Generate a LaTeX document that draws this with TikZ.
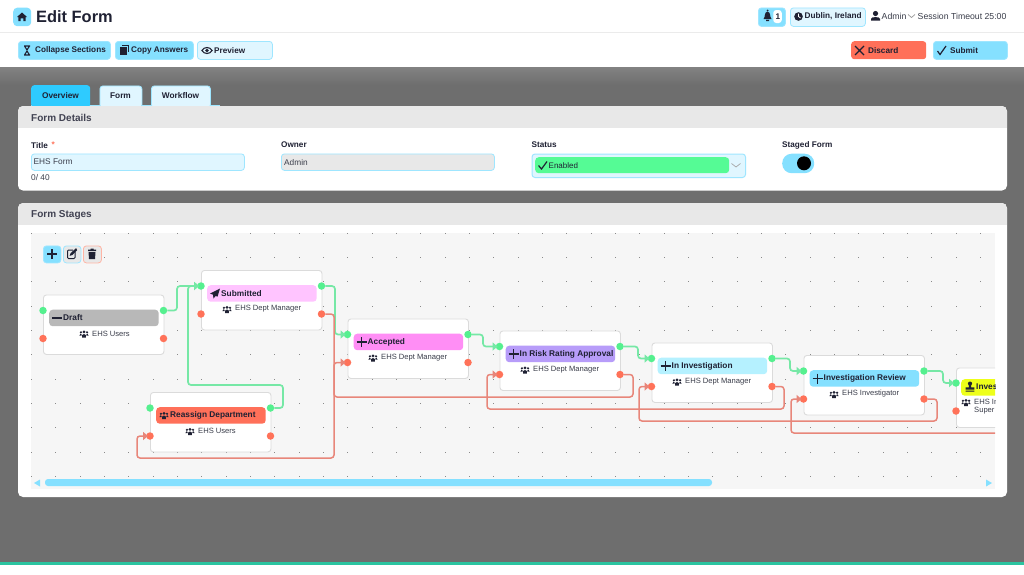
\documentclass[tikz,border=0pt]{standalone}
\usepackage{fontspec}
\setmainfont{Liberation Sans}
\usetikzlibrary{calc,arrows.meta}
\definecolor{ink}{HTML}{1F2133}
\definecolor{sub}{HTML}{3A3D4A}
\definecolor{sky}{HTML}{85E0FF}
\definecolor{skyl}{HTML}{E0F6FF}
\definecolor{skyb}{HTML}{9FE6FF}
\definecolor{tabon}{HTML}{2ECBFF}
\definecolor{hdr}{HTML}{E8E8E8}
\definecolor{page}{HTML}{6E6E6E}
\definecolor{pagetop}{HTML}{828282}
\definecolor{canvasc}{HTML}{F6F6F6}
\definecolor{portg}{HTML}{55F08F}
\definecolor{portr}{HTML}{FF7259}
\definecolor{lineg}{HTML}{76E8A6}
\definecolor{liner}{HTML}{E8867A}
\definecolor{coral}{HTML}{FF7059}
\definecolor{dotc}{HTML}{8A8A8A}
\definecolor{teal}{HTML}{2BC4A0}
\definecolor{salmon}{HTML}{FFB5A5}
\definecolor{okgreen}{HTML}{55FB95}
\definecolor{HLpink}{HTML}{FFC4FF}
\definecolor{HLmag}{HTML}{FF8EF5}
\definecolor{HLpur}{HTML}{B79CF9}
\definecolor{HLcy}{HTML}{B5F1FF}
\definecolor{HLyel}{HTML}{EEFF1A}
\tikzset{
  x=1pt,y=-1pt,
  stagebox/.style={draw=black!14,line width=.9pt,fill=white,rounded corners=3pt,minimum width=120.5pt,minimum height=59.5pt,inner sep=0pt,anchor=north west},
  pillbox/.style={rounded corners=3.5pt,minimum width=109.5pt,minimum height=16.5pt,inner sep=0pt,anchor=north west},
  ptitle/.style={font=\fontsize{8.3}{10}\selectfont\bfseries,text=ink,anchor=west,inner sep=0pt},
  psub/.style={font=\fontsize{7.6}{9}\selectfont,text=sub,anchor=west,inner sep=0pt},
  gport/.style={circle,fill=portg,minimum size=7.5pt,inner sep=0pt},
  rport/.style={circle,fill=portr,minimum size=7.5pt,inner sep=0pt},
  glink/.style={draw=lineg,line width=1.7pt,rounded corners=3pt,shorten >=-2pt,-{Triangle[length=5pt,width=8pt]}},
  rlink/.style={draw=liner,line width=1.5pt,rounded corners=3pt,shorten >=-2pt,-{Triangle[length=5pt,width=8pt]}},
  btnbox/.style={rounded corners=3pt,draw=skyb,line width=.8pt,fill=#1,inner sep=0pt,anchor=north west},
  btxt/.style={font=\fontsize{8.2}{10}\selectfont\bfseries,text=ink,anchor=west,inner sep=0pt,yshift=-.6pt},
  inp/.style={font=\fontsize{8.3}{10}\selectfont,text=sub,anchor=west,inner sep=0pt,yshift=-.6pt},
  headt/.style={font=\fontsize{10}{12}\selectfont\bfseries,text=ink!85,anchor=west,inner sep=0pt,yshift=-.6pt},
  tabt/.style={font=\fontsize{8.3}{10}\selectfont\bfseries,text=ink,anchor=center,inner sep=0pt,yshift=-.4pt},
}
\newcommand{\icoPlus}[2]{\draw[ink,line width=1.3pt] (#1-5,#2)--(#1+5,#2) (#1,#2-5)--(#1,#2+5);}
\newcommand{\icoMinus}[2]{\draw[ink,line width=1.3pt] (#1-5,#2)--(#1+5,#2);}
\newcommand{\icoPlane}[2]{\fill[ink] (#1+5,#2-5) -- (#1-5,#2) -- (#1-2,#2+1.2) -- (#1-1.5,#2+5) -- (#1+.6,#2+2.4) -- (#1+2.5,#2+3.2) -- cycle;}
\newcommand{\icoStamp}[2]{\fill[ink] (#1,#2-3.4) circle (2.1pt) (#1-1.2,#2-3) rectangle (#1+1.2,#2+.5) (#1-4.4,#2+.3) rectangle (#1+4.4,#2+2.6) (#1-4.4,#2+3.6) rectangle (#1+4.4,#2+4.6);}
\newcommand{\icoUsers}[2]{\begin{scope}[shift={(#1,#2)}]\fill[ink] (0,-2.2) circle (1.5pt) (-3.1,-1.7) circle (1.2pt) (3.1,-1.7) circle (1.2pt);
 \fill[ink] (-1.9,3.6) -- (-1.9,1.1) .. controls (-1.9,-.4) and (1.9,-.4) .. (1.9,1.1) -- (1.9,3.6) -- cycle;
 \fill[ink] (-4.6,1.6) .. controls (-4.6,-.6) and (-2.4,-.6) .. (-2.4,.4) -- (-2.4,1.6) -- cycle;
 \fill[ink] (4.6,1.6) .. controls (4.6,-.6) and (2.4,-.6) .. (2.4,.4) -- (2.4,1.6) -- cycle;\end{scope}}
% id, x, y, fill, icon macro, title, users-icon x, sub text
\newcommand{\stagenode}[8]{%
  \node[stagebox] (#1) at (#2,#3) {};
  \node[pillbox,fill=#4] (#1pill) at (#2+6,#3+15) {};
  #5{#2+14}{#3+23.5}
  \node[ptitle] (#1title) at (#2+20,#3+23.5) {#6};
  \icoUsers{#7}{#3+39.5}
  \node[psub] (#1sub) at (#7+8,#3+39) {#8};
  \node[gport] (#1gi) at (#2,#3+16) {};
  \node[rport] (#1ri) at (#2,#3+44) {};
  \node[gport] (#1go) at (#2+120.5,#3+16) {};
  \node[rport] (#1ro) at (#2+120.5,#3+44) {};
}
\begin{document}
\begin{tikzpicture}
\useasboundingbox (0,0) rectangle (1024,574);
\fill[white] (0,0) rectangle (1024,574);
% page background
\fill[page] (0,67) rectangle (1024,563);
\shade[top color=pagetop,bottom color=page] (0,67) rectangle (1024,85);
\fill[black!8] (0,32) rectangle (1024,33);
\fill[teal] (0,562) rectangle (1024,564.5);
% top bar
\node[rounded corners=4pt,fill=sky,minimum width=18pt,minimum height=18.5pt,inner sep=0pt,anchor=north west] (home) at (13,7.5) {};
\fill[ink] (22,12.5) -- (27,17) -- (25.6,17) -- (25.6,21) -- (23.3,21) -- (23.3,18.3) -- (20.7,18.3) -- (20.7,21) -- (18.4,21) -- (18.4,17) -- (17,17) -- cycle;
\node[font=\fontsize{16.4}{20}\selectfont\bfseries,text=ink,anchor=west,inner sep=0pt] (pagetitle) at (36,16.8) {Edit Form};
\node[btnbox=sky,minimum width=27pt,minimum height=18.5pt] (bell) at (758,7.5) {};
\fill[ink] (767.5,10.5) circle (1pt);
\fill[ink] (763.5,19) .. controls (765.5,17) and (764,12) .. (767.5,11.5) .. controls (771,12) and (769.5,17) .. (771.5,19) -- cycle (766,19.8) rectangle (769,21);
\node[rounded corners=3pt,fill=white,minimum width=8.5pt,minimum height=13pt,inner sep=0pt] (bellbg) at (777.5,16.5) {};
\node[btxt] (bellnum) at (775.5,16) {1};
\node[btnbox=skyl,minimum width=75pt,minimum height=18.5pt] (loc) at (790,7.5) {};
\fill[ink] (798.5,16.5) circle (4.3pt);
\draw[white,line width=.8pt] (798.5,13.5) -- (798.5,16.5) -- (800.5,18);
\node[btxt] (loctxt) at (804.5,16) {Dublin, Ireland};
\fill[ink] (875.5,13.5) circle (2.6pt);
\fill[ink] (871,20.5) -- (871,18.8) .. controls (871,16.5) and (880,16.5) .. (880,18.8) -- (880,20.5) -- cycle;
\node[psub,font=\fontsize{8.7}{10}\selectfont] (admin) at (881.5,16) {Admin};
\draw[black!40,line width=.7pt] (908,14.5) -- (911.5,17.5) -- (915,14.5);
\node[psub,font=\fontsize{8.7}{10}\selectfont] (sess) at (917.5,16) {Session Timeout 25:00};
% action bar
\node[btnbox=sky,minimum width=92pt,minimum height=18pt] (b1) at (18,41) {};
\draw[ink,line width=1.1pt] (24,46)--(30,46) (24,55)--(30,55) (24.5,46)--(27,50) --(29.5,46) (24.5,55)--(27,51)--(29.5,55);
\node[btxt] (b1t) at (35,50) {Collapse Sections};
\node[btnbox=sky,minimum width=78pt,minimum height=18pt] (b2) at (115,41) {};
\fill[ink] (120,47) rectangle (127,55);
\draw[ink,line width=1pt] (122,45.5) -- (128.5,45.5) -- (128.5,52);
\node[btxt] (b2t) at (131,50) {Copy Answers};
\node[btnbox=skyl,minimum width=75pt,minimum height=18pt] (b3) at (197,41) {};
\draw[ink,line width=1.1pt] (202,50.5) .. controls (204,46.5) and (210,46.5) .. (212,50.5) .. controls (210,54.5) and (204,54.5) .. (202,50.5) -- cycle;
\fill[ink] (207,50.5) circle (1.8pt);
\node[btxt] (b3t) at (214,50) {Preview};
\node[rounded corners=3pt,fill=coral,minimum width=75pt,minimum height=18pt,inner sep=0pt,anchor=north west] (b4) at (851,41) {};
\draw[ink,line width=1.1pt] (855,46)--(864,55) (864,46)--(855,55);
\node[btxt] (b4t) at (868,50) {Discard};
\node[btnbox=sky,minimum width=74pt,minimum height=18pt] (b5) at (933,41) {};
\draw[ink,line width=1.2pt] (937.5,51) -- (940,54.5) -- (946,46);
\node[btxt] (b5t) at (950,50) {Submit};
% tabs
\draw[skyb,line width=.7pt] (31,105.5) -- (220,105.5);
\node[rounded corners=3pt,fill=tabon,minimum width=59pt,minimum height=22pt,inner sep=0pt,anchor=north west] (tab1) at (31,85) {};
\node[btnbox=skyl,minimum width=42pt,minimum height=22pt] (tab2) at (99.5,85.5) {};
\node[btnbox=skyl,minimum width=59pt,minimum height=22pt] (tab3) at (151,85.5) {};
% form details card
\begin{scope}
\fill[white,rounded corners=5pt] (18,106) rectangle (1007,190.5);
\clip[rounded corners=5pt] (18,106) rectangle (1007,190.5);
\fill[hdr] (18,106) rectangle (1007,128);
\end{scope}
\node[tabt] (tab1t) at (60.5,95.5) {Overview};
\node[tabt] (tab2t) at (120.5,95.5) {Form};
\node[tabt] (tab3t) at (180.5,95.5) {Workflow};
\node[headt] (h1) at (31,117) {Form Details};
\node[btxt] (l1) at (31,144.5) {Title};
\node[btxt,text=portr] (l1s) at (51.5,144.5) {*};
\node[btnbox=skyl,minimum width=213pt,minimum height=16.5pt] (f1) at (31,153.5) {};
\node[inp] (f1t) at (33.5,161.5) {EHS Form};
\node[inp] (f1c) at (31,177) {0/ 40};
\node[btxt] (l2) at (281,144.5) {Owner};
\node[btnbox=hdr,minimum width=213pt,minimum height=16.5pt] (f2) at (281,153.5) {};
\node[inp] (f2t) at (284,161.5) {Admin};
\node[btxt] (l3) at (531.5,144.5) {Status};
\node[btnbox=skyl,line width=1pt,minimum width=213.5pt,minimum height=23.5pt] (f3) at (531.5,153.5) {};
\node[rounded corners=3.5pt,fill=okgreen,minimum width=194pt,minimum height=16pt,inner sep=0pt,anchor=north west] (f3p) at (535,157) {};
\draw[ink,line width=1.2pt] (538.5,165.5) -- (541.5,169) -- (547,161.5);
\node[btxt,font=\fontsize{8}{10}\selectfont] (f3t) at (548.5,165) {Enabled};
\draw[black!35,line width=.7pt] (731.5,163.5) -- (736,167) -- (740.5,163.5);
\node[btxt] (l4) at (782,144.5) {Staged Form};
\node[rounded corners=9.5pt,fill=sky,minimum width=32pt,minimum height=19.5pt,inner sep=0pt,anchor=north west] (tog) at (782,153.5) {};
\node[circle,fill=black,minimum size=14pt,inner sep=0pt] (knob) at (804,163.3) {};
% form stages card
\begin{scope}
\fill[white,rounded corners=5pt] (18,203) rectangle (1007,497);
\clip[rounded corners=5pt] (18,203) rectangle (1007,497);
\fill[hdr] (18,203) rectangle (1007,225);
\end{scope}
\node[headt] (h2) at (31,214) {Form Stages};
\fill[canvasc] (31,233) rectangle (995,488.5);
\foreach \i in {0,...,39}{\foreach \j in {0,...,10}{\fill[dotc] (31+24.33*\i,232.6+24.33*\j) rectangle +(1,1);}}
% toolbar
\node[btnbox=sky,minimum width=17.5pt,minimum height=17pt] (t1) at (43,245.5) {};
\icoPlus{52}{254}
\node[btnbox=hdr,minimum width=17.5pt,minimum height=17pt] (t2) at (63,245.5) {};
\draw[ink,line width=1pt,rounded corners=1pt] (75,252) -- (75,258.5) -- (67.5,258.5) -- (67.5,250) -- (73,250);
\draw[ink,line width=1.1pt] (70.5,255) -- (71,253.5) -- (76,249) -- (76.5,250) -- (72,254.6) -- cycle;
\node[btnbox=hdr,draw=salmon,minimum width=18pt,minimum height=17pt] (t3) at (83,245.5) {};
\fill[ink] (88.5,252) -- (95.5,252) -- (95,259) -- (89,259) -- cycle (88,249.5) rectangle (96,251) (90.5,248.5) rectangle (93.5,250);
% stages
\begin{scope}
\clip (31,233) rectangle (995,488.5);
\stagenode{draft}{43}{294.5}{black!28}{\icoMinus}{Draft}{84}{EHS Users}
\stagenode{subm}{201}{270}{HLpink}{\icoPlane}{Submitted}{227}{EHS Dept Manager}
\stagenode{reas}{150}{392}{coral}{\icoUsers}{Reassign Department}{190}{EHS Users}
\stagenode{acc}{347.5}{318.5}{HLmag}{\icoPlus}{Accepted}{373}{EHS Dept Manager}
\stagenode{risk}{499.5}{330.5}{HLpur}{\icoPlus}{In Risk Rating Approval}{525}{EHS Dept Manager}
\stagenode{inv}{651.5}{342.5}{HLcy}{\icoPlus}{In Investigation}{677}{EHS Dept Manager}
\stagenode{rev}{803.5}{355}{sky}{\icoPlus}{Investigation Review}{834}{EHS Investigator}
% cut-off last stage
\node[stagebox] (last) at (956,367.5) {};
\node[pillbox,fill=HLyel] (lastpill) at (961,379) {};
\icoStamp{970}{387}
\node[ptitle] (lasttitle) at (976,387) {Inves};
\icoUsers{966}{402.5}
\node[psub] (lastsub) at (974,402) {EHS In};
\node[psub] (lastsub2) at (974,411) {Super};
\node[gport] (lastgi) at (956,383) {};
\node[rport] (lastri) at (956,411) {};
\coordinate (offr) at (1010,433);
% green links
\draw[glink] (draftgo) -- (177,0 |- draftgo) -- (177,0 |- submgi) -- (submgi);
\draw[glink] (reasgo) -- (283,0 |- reasgo) -- (283,385) -- (188,385) -- (188,0 |- submgi) -- (submgi);
\draw[glink] (submgo) -- (335,0 |- submgo) -- (335,0 |- accgi) -- (accgi);
\draw[glink] (accgo) -- (483,0 |- accgo) -- (483,0 |- riskgi) -- (riskgi);
\draw[glink] (riskgo) -- (638,0 |- riskgo) -- (638,0 |- invgi) -- (invgi);
\draw[glink] (invgo) -- (790,0 |- invgo) -- (790,0 |- revgi) -- (revgi);
\draw[glink] (revgo) -- (943,0 |- revgo) -- (943,0 |- lastgi) -- (lastgi);
% red links
\draw[rlink] (submro) -- (334,0 |- submro) -- (334,458) -- (137,458) -- (137,0 |- reasri) -- (reasri);
\draw[rlink] (riskro) -- (633,0 |- riskro) -- (633,397) -- (334,397) -- (334,0 |- accri) -- (accri);
\draw[rlink] (invro) -- (784,0 |- invro) -- (784,409) -- (487,409) -- (487,0 |- riskri) -- (riskri);
\draw[rlink] (revro) -- (937,0 |- revro) -- (937,421) -- (639,421) -- (639,0 |- invri) -- (invri);
\draw[rlink] (offr) -- (791,433) -- (791,0 |- revri) -- (revri);
\end{scope}
% scrollbar
\fill[sky,rounded corners=3pt] (45,479) rectangle (712,486);
\fill[sky] (34,483) -- (40,479.5) -- (40,486.5) -- cycle;
\fill[sky] (992,483) -- (986,479.5) -- (986,486.5) -- cycle;
\end{tikzpicture}
\end{document}
